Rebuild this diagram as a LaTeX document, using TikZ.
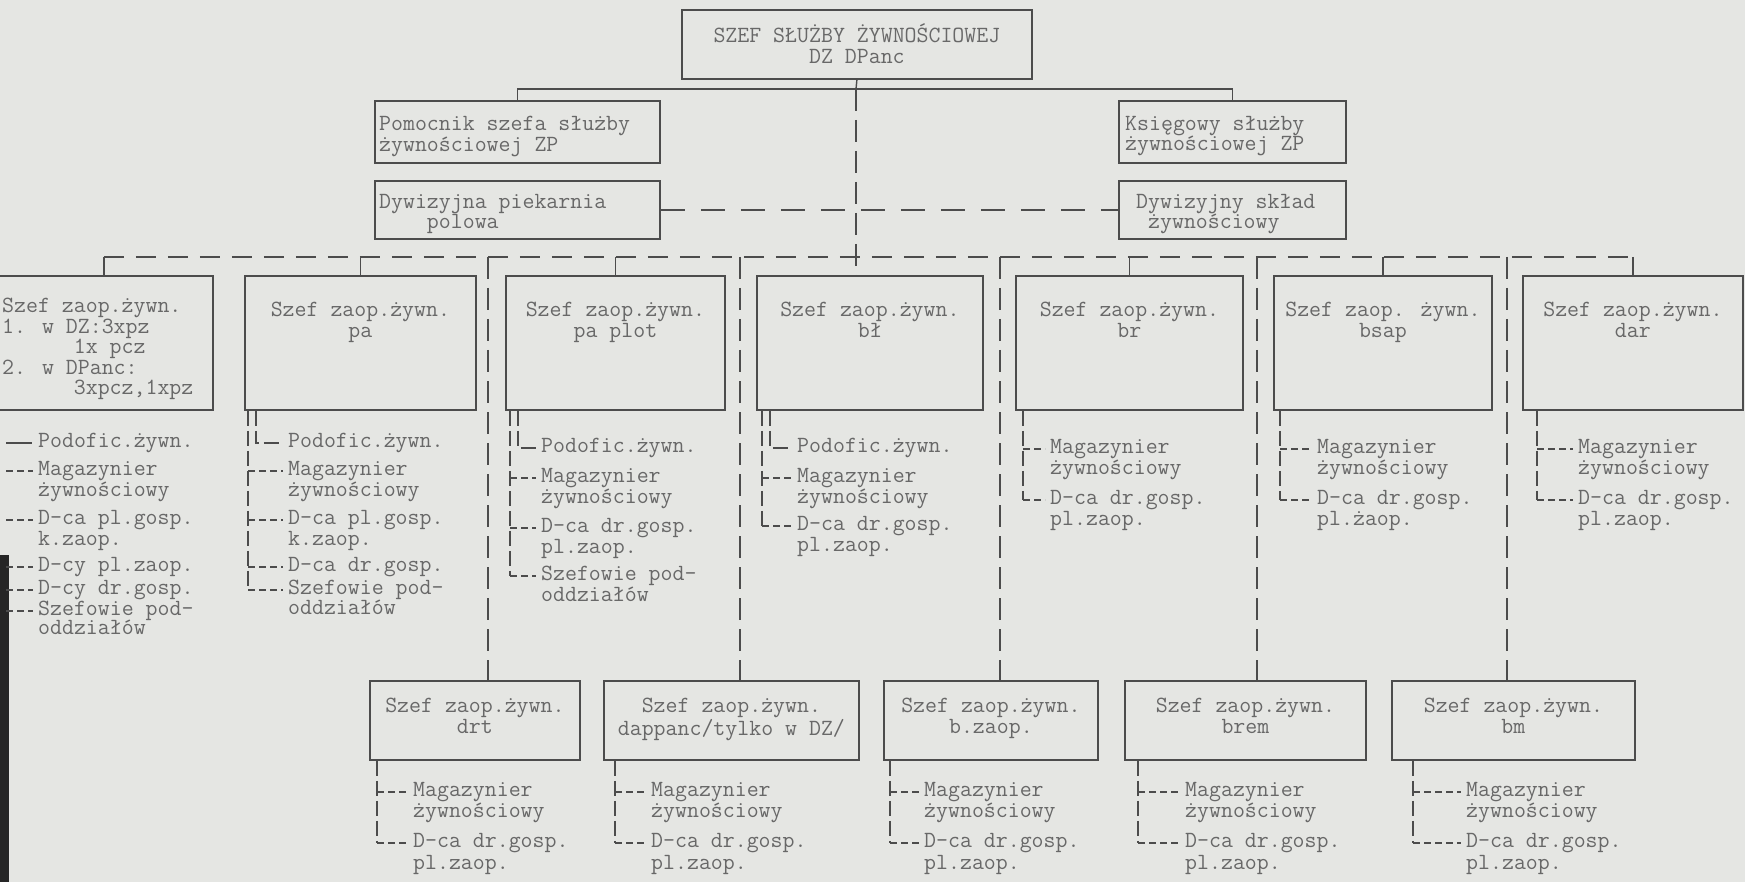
\documentclass[tikz,border=0pt]{standalone}
\usepackage{fontspec}
\usetikzlibrary{positioning}
\definecolor{paper}{RGB}{229,230,227}
\definecolor{ink}{RGB}{76,76,76}
\definecolor{typeink}{RGB}{104,104,104}
\begin{document}
\begin{tikzpicture}[x=1pt,y=1pt,
  box/.style={draw=ink, line width=1.8pt, inner sep=0pt, anchor=north west},
  txt/.style={font=\ttfamily\fontsize{23.2}{20.5}\selectfont, text=typeink, inner sep=0pt, align=center, anchor=north},
  lefttxt/.style={txt, align=left, anchor=north west},
  item/.style={font=\ttfamily\fontsize{23.2}{20.5}\selectfont, text=typeink, inner sep=0pt, anchor=west, text height=14pt, text depth=5pt},
  link/.style={draw=ink, line width=1.4pt},
  rowdash/.style={draw=ink, line width=1.4pt, dash pattern=on 20pt off 12pt},
  longdash/.style={draw=ink, line width=1.3pt, dash pattern=on 22pt off 9pt},
  middash/.style={draw=ink, line width=1.4pt, dash pattern=on 24pt off 16pt},
  bus/.style={draw=ink, line width=1.1pt, dash pattern=on 15pt off 5pt},
  stub/.style={draw=ink, line width=1.1pt, dash pattern=on 7pt off 4pt, shorten >=5pt},
]
\useasboundingbox (0,0) rectangle (1745,-882);
\fill[paper] (0,0) rectangle (1745,-882);
\fill[black!85] (0,-555) rectangle (9,-882);

% head of the service and its staff
\node[box, minimum width=350pt, minimum height=69pt] (chief) at (681,-9) {};
\node[txt, below=15pt of chief.north] (chieft) {SZEF SŁUŻBY ŻYWNOŚCIOWEJ\\DZ DPanc};
\node[box, minimum width=285pt, minimum height=62pt] (pom) at (374,-100) {};
\node[lefttxt, below right=16pt and 5pt of pom.north west] (pomt) {Pomocnik szefa służby\\żywnościowej ZP};
\node[box, minimum width=285pt, minimum height=58pt] (piek) at (374,-180) {};
\node[lefttxt, below right=14pt and 5pt of piek.north west] (piekt) {Dywizyjna piekarnia\\~~~~polowa};
\node[box, minimum width=227pt, minimum height=62pt] (ks) at (1118,-100) {};
\node[lefttxt, below right=16pt and 7pt of ks.north west] (kst) {Księgowy służby\\żywnościowej ZP};
\node[box, minimum width=227pt, minimum height=58pt] (sklad) at (1118,-180) {};
\node[lefttxt, below right=14pt and 18pt of sklad.north west] (skladt) {Dywizyjny skład\\~żywnościowy};

% upper row
\node[box, minimum width=218pt, minimum height=134pt] (dz) at (-6,-275) {};
\node[lefttxt, below right=23pt and 8pt of dz.north west] (dzt) {Szef zaop.żywn.\\1. w DZ:3xpz\\~~~~~~1x pcz\\2. w DPanc:\\~~~~~~3xpcz,1xpz};
\node[box, minimum width=231pt, minimum height=134pt] (pa) at (244,-275) {};
\node[txt, below=27pt of pa.north] (pat) {Szef zaop.żywn.\\pa};
\node[box, minimum width=219pt, minimum height=134pt] (pp) at (505,-275) {};
\node[txt, below=27pt of pp.north] (ppt) {Szef zaop.żywn.\\pa plot};
\node[box, minimum width=226pt, minimum height=134pt] (bl) at (756,-275) {};
\node[txt, below=27pt of bl.north] (blt) {Szef zaop.żywn.\\bł};
\node[box, minimum width=227pt, minimum height=134pt] (br) at (1015,-275) {};
\node[txt, below=27pt of br.north] (brt) {Szef zaop.żywn.\\br};
\node[box, minimum width=218pt, minimum height=134pt] (bsap) at (1273,-275) {};
\node[txt, below=27pt of bsap.north] (bsapt) {Szef zaop. żywn.\\bsap};
\node[box, minimum width=220pt, minimum height=134pt] (dar) at (1522,-275) {};
\node[txt, below=27pt of dar.north] (dart) {Szef zaop.żywn.\\dar};

% lower row
\node[box, minimum width=210pt, minimum height=79pt] (drt) at (369,-680) {};
\node[txt, below=18pt of drt.north] (drtt) {Szef zaop.żywn.\\drt};
\node[box, minimum width=255pt, minimum height=79pt] (dapp) at (603,-680) {};
\node[txt, below=18pt of dapp.north] (dappt) {Szef zaop.żywn.\\dappanc/tylko w DZ/};
\node[box, minimum width=214pt, minimum height=79pt] (bzaop) at (883,-680) {};
\node[txt, below=18pt of bzaop.north] (bzaopt) {Szef zaop.żywn.\\b.zaop.};
\node[box, minimum width=241pt, minimum height=79pt] (brem) at (1124,-680) {};
\node[txt, below=18pt of brem.north] (bremt) {Szef zaop.żywn.\\brem};
\node[box, minimum width=243pt, minimum height=79pt] (bm) at (1391,-680) {};
\node[txt, below=18pt of bm.north] (bmt) {Szef zaop.żywn.\\bm};

% connections between the boxes
\coordinate (hub) at (856,-89);
\coordinate (row) at (0,-257);
\draw[link] (chief.south) -- (hub);
\draw[link] (pom.north) |- (hub) -| (ks.north);
\draw[longdash] (hub) -- (hub |- bl.north);
\draw[middash] (piek.east) -- (sklad.west);
\draw[rowdash] (dz.north |- row) -- (dar.north |- row);
\draw[link] (dz.north |- row) -- (dz.north);
\draw[link] (pa.north |- row) -- (pa.north);
\draw[link] (pp.north |- row) -- (pp.north);
\draw[link] (br.north |- row) -- (br.north);
\draw[link] (bsap.north |- row) -- (bsap.north);
\draw[link] (dar.north |- row) -- (dar.north);
\coordinate (v1) at (488,-257);
\coordinate (v2) at (740,-257);
\coordinate (v3) at (1000,-257);
\coordinate (v4) at (1257,-257);
\coordinate (v5) at (1507,-257);
\draw[longdash] (v1) -- (v1 |- drt.north);
\draw[longdash] (v2) -- (v2 |- dapp.north);
\draw[longdash] (v3) -- (v3 |- bzaop.north);
\draw[longdash] (v4) -- (v4 |- brem.north);
\draw[longdash] (v5) -- (v5 |- bm.north);

% list under DZ
\node[item] (dz1) at (38,-443) {Podofic.żywn.};
\node[item] (dz2) at (38,-471) {Magazynier};
\node[item] (dz2b) at (38,-492) {żywnościowy};
\node[item] (dz3) at (38,-520) {D-ca pl.gosp.};
\node[item] (dz3b) at (38,-541) {k.zaop.};
\node[item] (dz4) at (38,-567) {D-cy pl.zaop.};
\node[item] (dz5) at (38,-590) {D-cy dr.gosp.};
\node[item] (dz6) at (38,-611) {Szefowie pod-};
\node[item] (dz6b) at (38,-630) {oddziałów};
\coordinate (dzbus) at (6,-409);
\draw[link, line width=1.1pt, shorten >=6pt] (dzbus |- dz1.west) -- (dz1.west);
\draw[stub] (dzbus |- dz2.west) -- (dz2.west);
\draw[stub] (dzbus |- dz3.west) -- (dz3.west);
\draw[stub] (dzbus |- dz4.west) -- (dz4.west);
\draw[stub] (dzbus |- dz5.west) -- (dz5.west);
\draw[stub] (dzbus |- dz6.west) -- (dz6.west);

% list under pa
\node[item] (pa1) at (288,-443) {Podofic.żywn.};
\node[item] (pa2) at (288,-471) {Magazynier};
\node[item] (pa2b) at (288,-492) {żywnościowy};
\node[item] (pa3) at (288,-520) {D-ca pl.gosp.};
\node[item] (pa3b) at (288,-541) {k.zaop.};
\node[item] (pa4) at (288,-567) {D-ca dr.gosp.};
\node[item] (pa5) at (288,-590) {Szefowie pod-};
\node[item] (pa5b) at (288,-610) {oddziałów};
\coordinate (pabus) at ([xshift=4pt]pa.south west);
\coordinate (pain) at ([xshift=12pt]pa.south west);
\draw[bus] (pabus) -- (pabus |- pa5.west);
\draw[bus, shorten >=6pt] (pain) |- (pa1.west);
\draw[stub] (pabus |- pa2.west) -- (pa2.west);
\draw[stub] (pabus |- pa3.west) -- (pa3.west);
\draw[stub] (pabus |- pa4.west) -- (pa4.west);
\draw[stub] (pabus |- pa5.west) -- (pa5.west);

% list under pa plot
\node[item] (pp1) at (541,-448) {Podofic.żywn.};
\node[item] (pp2) at (541,-478) {Magazynier};
\node[item] (pp2b) at (541,-499) {żywnościowy};
\node[item] (pp3) at (541,-528) {D-ca dr.gosp.};
\node[item] (pp3b) at (541,-549) {pl.zaop.};
\node[item] (pp4) at (541,-576) {Szefowie pod-};
\node[item] (pp4b) at (541,-597) {oddziałów};
\coordinate (ppbus) at ([xshift=5pt]pp.south west);
\coordinate (ppin) at ([xshift=13pt]pp.south west);
\draw[bus] (ppbus) -- (ppbus |- pp4.west);
\draw[bus, shorten >=5pt] (ppin) |- (pp1.west);
\draw[stub] (ppbus |- pp2.west) -- (pp2.west);
\draw[stub] (ppbus |- pp3.west) -- (pp3.west);
\draw[stub] (ppbus |- pp4.west) -- (pp4.west);

% list under bł
\node[item] (bl1) at (797,-448) {Podofic.żywn.};
\node[item] (bl2) at (797,-478) {Magazynier};
\node[item] (bl2b) at (797,-499) {żywnościowy};
\node[item] (bl3) at (797,-526) {D-ca dr.gosp.};
\node[item] (bl3b) at (797,-547) {pl.zaop.};
\coordinate (blbus) at ([xshift=6pt]bl.south west);
\coordinate (blin) at ([xshift=14pt]bl.south west);
\draw[bus] (blbus) -- (blbus |- bl3.west);
\draw[bus, shorten >=6pt] (blin) |- (bl1.west);
\draw[stub] (blbus |- bl2.west) -- (bl2.west);
\draw[stub] (blbus |- bl3.west) -- (bl3.west);

% lists under br, bsap, dar
\node[item] (br1) at (1050,-449) {Magazynier};
\node[item] (br1b) at (1050,-470) {żywnościowy};
\node[item] (br2) at (1050,-500) {D-ca dr.gosp.};
\node[item] (br2b) at (1050,-521) {pl.zaop.};
\coordinate (brbus) at ([xshift=8pt]br.south west);
\draw[bus] (brbus) -- (brbus |- br2.west);
\draw[stub] (brbus |- br1.west) -- (br1.west);
\draw[stub] (brbus |- br2.west) -- (br2.west);

\node[item] (bs1) at (1317,-449) {Magazynier};
\node[item] (bs1b) at (1317,-470) {żywnościowy};
\node[item] (bs2) at (1317,-500) {D-ca dr.gosp.};
\node[item] (bs2b) at (1317,-521) {pl.żaop.};
\coordinate (bsbus) at ([xshift=7pt]bsap.south west);
\draw[bus] (bsbus) -- (bsbus |- bs2.west);
\draw[stub] (bsbus |- bs1.west) -- (bs1.west);
\draw[stub] (bsbus |- bs2.west) -- (bs2.west);

\node[item] (da1) at (1578,-449) {Magazynier};
\node[item] (da1b) at (1578,-470) {żywnościowy};
\node[item] (da2) at (1578,-500) {D-ca dr.gosp.};
\node[item] (da2b) at (1578,-521) {pl.zaop.};
\coordinate (dabus) at ([xshift=15pt]dar.south west);
\draw[bus] (dabus) -- (dabus |- da2.west);
\draw[stub] (dabus |- da1.west) -- (da1.west);
\draw[stub] (dabus |- da2.west) -- (da2.west);

% lists under the lower row
\node[item] (drt1) at (413,-792) {Magazynier};
\node[item] (drt1b) at (413,-813) {żywnościowy};
\node[item] (drt2) at (413,-843) {D-ca dr.gosp.};
\node[item] (drt2b) at (413,-865) {pl.zaop.};
\coordinate (drtbus) at ([xshift=8pt]drt.south west);
\draw[bus] (drtbus) -- (drtbus |- drt2.west);
\draw[stub] (drtbus |- drt1.west) -- (drt1.west);
\draw[stub] (drtbus |- drt2.west) -- (drt2.west);

\node[item] (dp1) at (651,-792) {Magazynier};
\node[item] (dp1b) at (651,-813) {żywnościowy};
\node[item] (dp2) at (651,-843) {D-ca dr.gosp.};
\node[item] (dp2b) at (651,-865) {pl.zaop.};
\coordinate (dpbus) at ([xshift=12pt]dapp.south west);
\draw[bus] (dpbus) -- (dpbus |- dp2.west);
\draw[stub] (dpbus |- dp1.west) -- (dp1.west);
\draw[stub] (dpbus |- dp2.west) -- (dp2.west);

\node[item] (bz1) at (924,-792) {Magazynier};
\node[item] (bz1b) at (924,-813) {żywnościowy};
\node[item] (bz2) at (924,-843) {D-ca dr.gosp.};
\node[item] (bz2b) at (924,-865) {pl.zaop.};
\coordinate (bzbus) at ([xshift=7pt]bzaop.south west);
\draw[bus] (bzbus) -- (bzbus |- bz2.west);
\draw[stub] (bzbus |- bz1.west) -- (bz1.west);
\draw[stub] (bzbus |- bz2.west) -- (bz2.west);

\node[item] (bre1) at (1185,-792) {Magazynier};
\node[item] (bre1b) at (1185,-813) {żywnościowy};
\node[item] (bre2) at (1185,-843) {D-ca dr.gosp.};
\node[item] (bre2b) at (1185,-865) {pl.zaop.};
\coordinate (brebus) at ([xshift=14pt]brem.south west);
\draw[bus] (brebus) -- (brebus |- bre2.west);
\draw[stub] (brebus |- bre1.west) -- (bre1.west);
\draw[stub] (brebus |- bre2.west) -- (bre2.west);

\node[item] (bm1) at (1466,-792) {Magazynier};
\node[item] (bm1b) at (1466,-813) {żywnościowy};
\node[item] (bm2) at (1466,-843) {D-ca dr.gosp.};
\node[item] (bm2b) at (1466,-865) {pl.zaop.};
\coordinate (bmbus) at ([xshift=22pt]bm.south west);
\draw[bus] (bmbus) -- (bmbus |- bm2.west);
\draw[stub] (bmbus |- bm1.west) -- (bm1.west);
\draw[stub] (bmbus |- bm2.west) -- (bm2.west);
\end{tikzpicture}
\end{document}
